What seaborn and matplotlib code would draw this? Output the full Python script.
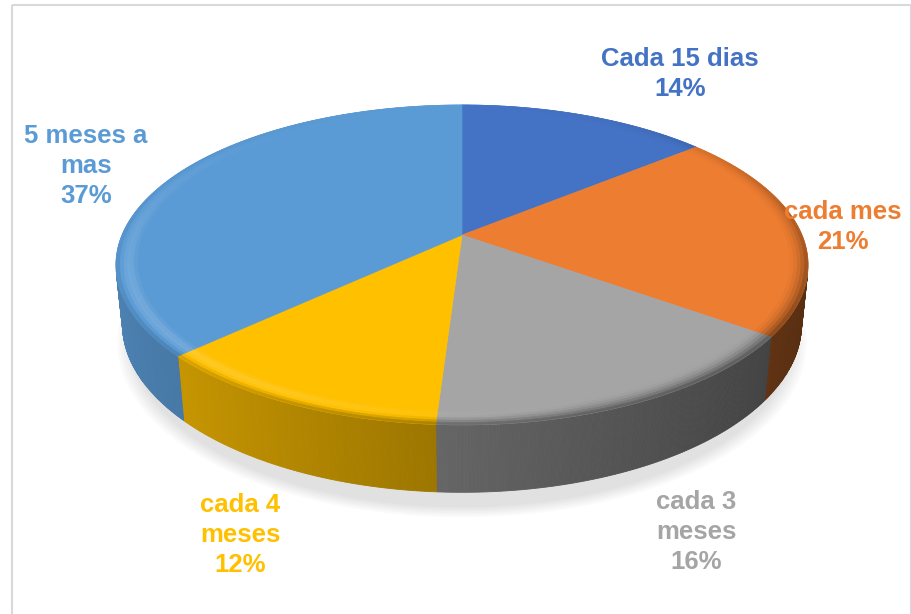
"""
3D-style pie chart: frecuencia de compra
"""

import numpy as np
import matplotlib
matplotlib.use("Agg")
import matplotlib.pyplot as plt
from matplotlib.patches import Polygon, Rectangle
from matplotlib.colors import to_rgb
import seaborn as sns

# ─── Data ──────────────────────────────────────────────────────────────────────
categories = ["Cada 15 dias", "cada mes", "cada 3\nmeses", "cada 4\nmeses", "5 meses a\nmas"]
shares = [14, 21, 16, 12, 37]
colors = ["#4472C4", "#ED7D31", "#A5A5A5", "#FFC000", "#5B9BD5"]
label_xy = [(680, 74), (843, 227), (696, 532), (240, 535), (86, 166)]

# ─── Style ─────────────────────────────────────────────────────────────────────
sns.set_theme(style="white")
plt.rcParams['font.family'] = ['Liberation Sans', 'DejaVu Sans']

# ─── Projection settings (camera tilt / perspective) ──────────────────────────
TILT = np.radians(27)
DIST = 5.35 * np.cos(TILT)
FOCAL = 340 * DIST
THICK = 0.197
CX, CY = 462, 235
S, C = np.sin(TILT), np.cos(TILT)


def project(x, y, z):
    ry = y - DIST * S
    rz = z - DIST * C
    up = C * ry - S * rz
    depth = -(S * ry + C * rz)
    return CX + FOCAL * x / depth, CY - FOCAL * up / depth


def rim(theta, r=1.0, y=0.0):
    return project(r * np.sin(theta), y, -r * np.cos(theta))


def wall_shade(theta):
    return np.clip(0.6 - 0.24 * np.sin(theta), 0.3, 1.0)


def shade(rgb, f):
    rgb = np.array(rgb)
    if f <= 1:
        return tuple(rgb * f)
    return tuple(rgb + (1 - rgb) * (f - 1))


fig = plt.figure(figsize=(9.12, 6.14), dpi=100)
ax = fig.add_axes([0, 0, 1, 1])
ax.set_xlim(0, 912)
ax.set_ylim(614, 0)
ax.axis('off')

fracs = np.array(shares) / np.sum(shares)
bounds = np.concatenate([[0], np.cumsum(fracs)]) * 2 * np.pi

# soft shadow under the front of the pie
for k in range(6):
    t = np.linspace(0, 2 * np.pi, 300)
    px, py = rim(t, 0.98 + 0.008 * k, -THICK - 0.06)
    ax.add_patch(Polygon(np.column_stack([px, py]), closed=True,
                         facecolor='#000000', alpha=0.018, lw=0))

# side walls (only the part facing the camera)
vis = np.arccos(-1 / (DIST * C))
step = np.radians(0.4)
for i, col in enumerate(colors):
    a0, a1 = max(bounds[i], vis), min(bounds[i + 1], 2 * np.pi - vis)
    if a1 <= a0:
        continue
    edges = np.append(np.arange(a0, a1, step), a1)
    base = to_rgb(col)
    for t0, t1 in zip(edges[:-1], edges[1:]):
        x0, y0 = rim(t0)
        x1, y1 = rim(t1)
        x2, y2 = rim(t1, y=-THICK)
        x3, y3 = rim(t0, y=-THICK)
        c = shade(base, wall_shade((t0 + t1) / 2))
        ax.add_patch(Polygon([(x0, y0), (x1, y1), (x2, y2), (x3, y3)], closed=True,
                             facecolor=c, edgecolor=c, lw=0.6))

# top faces
for i, col in enumerate(colors):
    t = np.linspace(bounds[i], bounds[i + 1], 200)
    px, py = rim(t)
    pts = np.column_stack([np.append(CX, px), np.append(CY, py)])
    ax.add_patch(Polygon(pts, closed=True, facecolor=col, edgecolor=col, lw=0.5))

# rounded bevel along the rim of the top face
nb = 6
for i, col in enumerate(colors):
    base = to_rgb(col)
    t = np.linspace(bounds[i], bounds[i + 1], max(int(fracs[i] * 300), 10))
    for k in range(nb):
        r0, r1 = 0.94 + 0.06 * k / nb, 0.94 + 0.06 * (k + 1) / nb
        tt = (k + 0.5) / nb
        for t0, t1 in zip(t[:-1], t[1:]):
            tm = (t0 + t1) / 2
            w = np.clip(0.5 - 0.5 * np.cos(tm), 0, 1)
            light = -0.9 * np.sin(tm) - 0.3 * np.cos(tm)
            f = 1 + 0.3 * max(light, 0) * np.sin(np.pi * tt) * w
            mix = tt ** 2 * w
            f = f * (1 - mix) + wall_shade(tm) * mix
            c = shade(base, f)
            xa, ya = rim(t0, r0)
            xb, yb = rim(t1, r0)
            xc, yc = rim(t1, r1)
            xd, yd = rim(t0, r1)
            ax.add_patch(Polygon([(xa, ya), (xb, yb), (xc, yc), (xd, yd)], closed=True,
                                 facecolor=c, edgecolor=c, lw=0.4))

# data labels
for name, val, col, (lx, ly) in zip(categories, shares, colors, label_xy):
    ax.text(lx, ly, f"{name}\n{val}%", ha='center', va='center', color=col,
            fontsize=18.5, fontweight='bold', linespacing=1.3)

# chart frame
ax.add_patch(Rectangle((12, 5), 899, 640, facecolor='none', edgecolor='#D9D9D9', lw=1.5))

fig.savefig("out.png", dpi=100)
